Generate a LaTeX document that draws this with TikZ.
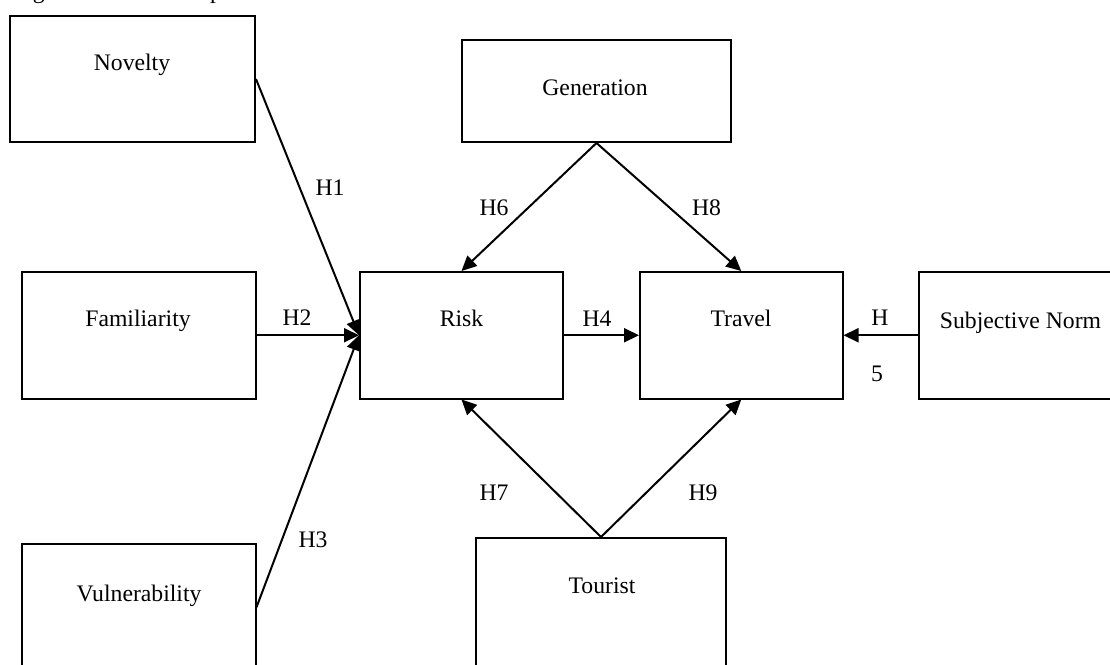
\documentclass[tikz,border=0pt]{standalone}
\usepackage{fontspec}
\setmainfont{Liberation Serif}
\usetikzlibrary{arrows.meta}
\begin{document}
\begin{tikzpicture}[x=1pt,y=-1pt,
  box/.style={draw=black,line width=2pt,inner sep=0pt,minimum height=126.5pt},
  txt/.style={anchor=base,inner sep=0pt,font=\fontsize{23.7pt}{28pt}\selectfont},
  conn/.style={line width=2pt,-{Triangle[length=15pt,width=14pt]}}]
\useasboundingbox (0,0) rectangle (1110,664);
\clip (0,0) rectangle (1110,664);
% caption (only its descenders are visible)
\node[txt,anchor=base west] (cap) at (13,-1.2) {Figure 1. The Conceptual Framework};
% boxes
\node[box,minimum width=245pt,minimum height=126pt] (nov) at (132.5,79) {};
\node[box,minimum width=269pt,minimum height=102pt] (gen) at (596.5,91) {};
\node[box,minimum width=233.5pt] (fam) at (138.75,335.25) {};
\node[box,minimum width=203pt] (risk) at (461.5,335.25) {};
\node[box,minimum width=202.5pt] (trav) at (741.25,335.25) {};
\node[box,minimum width=206pt] (sn) at (1022,335.25) {};
\node[box,minimum width=233.5pt] (vul) at (138.75,607.25) {};
\node[box,minimum width=250pt,minimum height=140pt] (tour) at (601,608) {};
% box texts
\node[txt] (novt) at (132,70.5) {Novelty};
\node[txt] (gent) at (595,95) {Generation};
\node[txt] (famt) at (138,326) {Familiarity};
\node[txt] (riskt) at (461.5,326) {Risk};
\node[txt] (travt) at (741,326) {Travel};
\node[txt] (snt) at (1020.5,328) {Subjective Norm};
\node[txt] (vult) at (139,601.5) {Vulnerability};
\node[txt] (tourt) at (602,593) {Tourist};
% connectors
\draw[conn] (nov.east) -- (risk.west);
\draw[conn] (fam.east) -- (risk.west);
\draw[conn] (vul.east) -- (risk.west);
\draw[conn] (risk.east) -- (trav.west);
\draw[conn] (sn.west) -- (trav.east);
\draw[conn] (gen.south) -- (risk.north);
\draw[conn] (gen.south) -- (trav.north);
\draw[conn] (tour.north) -- (risk.south);
\draw[conn] (tour.north) -- (trav.south);
% labels
\node[txt] (h1) at (330,195) {H1};
\node[txt] (h2) at (297,325) {H2};
\node[txt] (h3) at (313,547) {H3};
\node[txt] (h4) at (597,326) {H4};
\node[txt] (h6) at (494,215) {H6};
\node[txt] (h8) at (706.5,215) {H8};
\node[txt] (h7) at (494,500) {H7};
\node[txt] (h9) at (703,500) {H9};
\node[txt] (h5a) at (880,325) {H};
\node[txt] (h5b) at (877,381) {5};
\end{tikzpicture}
\end{document}
